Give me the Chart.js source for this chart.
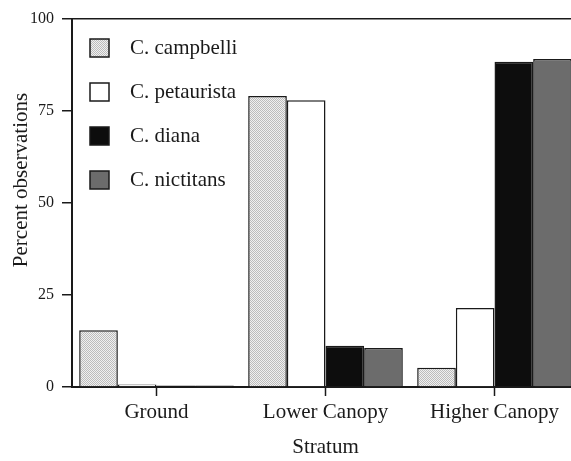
<!DOCTYPE html>
<html>
<head>
<meta charset="utf-8">
<script src="https://cdn.jsdelivr.net/npm/chart.js@4"></script>
<style>
  body { margin: 0; overflow: hidden; background: #fff; }
  canvas { display: block; }
</style>
</head>
<body>
<canvas id="grafico" width="579" height="461"></canvas>
<script>
// datos
const estratos = ['Ground', 'Lower Canopy', 'Higher Canopy'];
const especies = ['C. campbelli', 'C. petaurista', 'C. diana', 'C. nictitans'];
const campbelli = [15.4, 79.1, 5.2];
const petaurista = [0.7, 77.9, 21.5];
const diana = [0.4, 11.2, 88.4];
const nictitans = [0.4, 10.6, 89.1];
const ticksY = [0, 25, 50, 75, 100];

const fuente = '"Liberation Serif", "DejaVu Serif", serif';
const tinta = '#1a1a1a';

// trama punteada para C. campbelli
const crearTrama = () => {
    const c = document.createElement('canvas');
    c.width = 2; c.height = 2;
    const g = c.getContext('2d');
    g.fillStyle = '#f0f0f0';
    g.fillRect(0, 0, 2, 2);
    g.fillStyle = '#bcbcbc';
    g.fillRect(0, 0, 1, 1);
    g.fillRect(1, 1, 1, 1);
    return g.createPattern(c, 'repeat');
};

const ctx = document.getElementById('grafico').getContext('2d');
const colores = [crearTrama(), '#ffffff', '#0d0d0d', '#6c6c6c'];
const series = [campbelli, petaurista, diana, nictitans];

// leyenda dentro del area del grafico
const leyenda = {
    id: 'leyenda',
    afterDraw(chart) {
        const c = chart.ctx;
        c.save();
        chart.data.datasets.forEach((ds, i) => {
            const y = 48 + i * 44;
            c.fillStyle = ds.backgroundColor;
            c.fillRect(90, y - 9, 19, 18);
            c.lineWidth = 1.5;
            c.strokeStyle = tinta;
            c.strokeRect(90, y - 9, 19, 18);
            c.fillStyle = tinta;
            c.font = '21px ' + fuente;
            c.textBaseline = 'middle';
            c.textAlign = 'left';
            c.fillText(ds.label, 130, y);
        });
        // titulo eje y
        c.translate(21, 180);
        c.rotate(-Math.PI / 2);
        c.textAlign = 'center';
        c.textBaseline = 'middle';
        c.font = '21px ' + fuente;
        c.fillText('Percent observations', 0, 0);
        c.restore();
    }
};

new Chart(ctx, {
    type: 'bar',
    data: {
        labels: estratos,
        datasets: especies.map((nombre, i) => ({
            label: nombre,
            data: series[i],
            backgroundColor: colores[i],
            borderColor: tinta,
            borderWidth: 1.5,
            categoryPercentage: 0.915,
            barPercentage: 1.0
        }))
    },
    options: {
        responsive: false,
        animation: false,
        layout: { padding: { left: 0, top: 19, right: 0, bottom: 0 } },
        plugins: { legend: { display: false }, tooltip: { enabled: false } },
        scales: {
            x: {
                grid: {
                    offset: false,
                    drawOnChartArea: false,
                    tickLength: 9,
                    tickColor: tinta,
                    tickWidth: 1.5
                },
                border: { color: tinta, width: 2 },
                ticks: { color: tinta, font: { family: fuente, size: 21 }, padding: 4, maxRotation: 0 },
                title: {
                    display: true,
                    text: 'Stratum',
                    color: tinta,
                    font: { family: fuente, size: 21, lineHeight: 1.0 },
                    padding: { top: 0, bottom: 3 }
                },
                afterFit: scale => { scale.height = 74; }
            },
            y: {
                min: 0,
                max: 100,
                afterBuildTicks: scale => { scale.ticks = ticksY.map(v => ({ value: v })); },
                grid: {
                    color: c => (c.tick && c.tick.value === 100 ? tinta : 'transparent'),
                    lineWidth: 1.5,
                    tickLength: 10,
                    tickColor: tinta,
                    tickWidth: 1.5
                },
                border: { color: tinta, width: 2 },
                ticks: { color: tinta, font: { family: fuente, size: 16 }, padding: 8 },
                afterFit: scale => { scale.width = 72; }
            }
        }
    },
    plugins: [leyenda]
});
</script>
</body>
</html>
